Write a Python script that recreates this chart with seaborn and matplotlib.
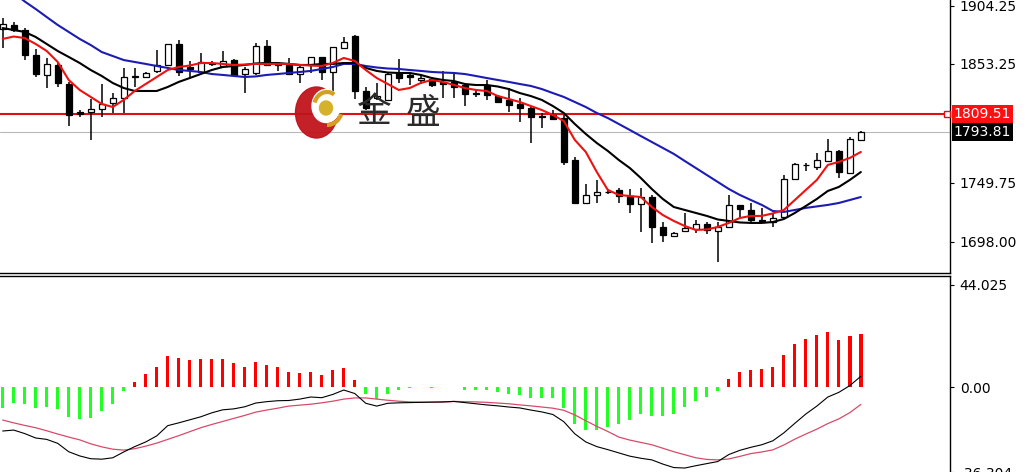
import matplotlib
matplotlib.use("Agg")
import matplotlib.pyplot as plt
import matplotlib.transforms as mtransforms
from matplotlib.patches import Ellipse, Arc
import numpy as np
import seaborn as sns

# candle data
opens = [1883.8, 1887.3, 1882.9, 1861.1, 1843.7, 1852.4, 1835.8, 1811.4, 1811.4, 1814.0,
         1819.2, 1823.6, 1841.9, 1841.9, 1847.1, 1852.4, 1870.7, 1850.6, 1846.3, 1854.1,
         1851.5, 1856.7, 1844.5, 1845.4, 1868.9, 1853.25, 1852.4, 1844.5, 1852.4, 1859.4,
         1846.3, 1867.2, 1877.7, 1829.7, 1823.6, 1821.9, 1845.4, 1843.7, 1839.3, 1840.2,
         1837.6, 1837.6, 1834.9, 1828.0, 1834.9, 1825.3, 1821.9, 1818.4, 1814.9, 1807.9,
         1808.8, 1806.2, 1769.5, 1732.0, 1739.0, 1741.6, 1743.4, 1738.1, 1731.1, 1737.2,
         1711.1, 1703.2, 1707.6, 1709.3, 1713.7, 1707.6, 1711.1, 1730.3, 1725.9, 1717.2,
         1715.4, 1719.8, 1752.9, 1765.2, 1763.4, 1768.6, 1777.4, 1758.2, 1787.0]
highs = [1893.4, 1889.9, 1884.7, 1866.3, 1858.5, 1854.1, 1837.6, 1813.1, 1822.7, 1835.8,
         1828.0, 1849.8, 1849.8, 1846.3, 1865.5, 1870.7, 1874.2, 1855.9, 1862.8, 1855.9,
         1864.6, 1857.6, 1850.6, 1871.6, 1874.2, 1854.1, 1858.5, 1852.4, 1859.4, 1859.4,
         1868.1, 1876.8, 1878.6, 1833.2, 1836.7, 1845.4, 1857.6, 1845.4, 1843.7, 1841.9,
         1847.1, 1846.3, 1836.7, 1830.6, 1839.3, 1826.2, 1832.3, 1823.6, 1815.7, 1810.5,
         1813.1, 1808.8, 1772.1, 1748.6, 1752.1, 1744.2, 1745.1, 1744.2, 1745.1, 1739.0,
         1715.4, 1706.7, 1723.3, 1717.2, 1715.4, 1715.4, 1739.0, 1730.3, 1732.0, 1727.7,
         1723.3, 1756.4, 1766.9, 1766.9, 1775.6, 1787.8, 1778.2, 1789.6, 1794.8]
lows = [1867.2, 1881.2, 1856.7, 1841.9, 1832.3, 1833.2, 1799.2, 1807.0, 1787.0, 1807.0,
        1810.5, 1810.5, 1833.2, 1841.0, 1845.4, 1851.5, 1842.8, 1841.0, 1845.4, 1851.5,
        1850.6, 1842.8, 1828.0, 1843.7, 1851.5, 1847.1, 1843.7, 1836.7, 1845.4, 1839.3,
        1828.0, 1867.2, 1822.7, 1813.1, 1821.9, 1821.0, 1836.7, 1834.9, 1835.8, 1833.2,
        1823.6, 1823.6, 1816.6, 1824.5, 1821.9, 1819.2, 1811.4, 1802.7, 1784.3, 1797.4,
        1804.4, 1765.2, 1731.1, 1731.1, 1732.0, 1739.9, 1732.0, 1723.3, 1706.7, 1697.1,
        1698.0, 1702.4, 1706.7, 1705.8, 1705.0, 1680.5, 1710.2, 1719.8, 1715.4, 1715.4,
        1711.1, 1718.9, 1752.1, 1759.9, 1760.8, 1767.8, 1753.8, 1757.3, 1787.0]
closes = [1888.1, 1882.9, 1861.1, 1844.5, 1853.25, 1836.7, 1808.8, 1809.2, 1814.0, 1818.4,
          1823.6, 1841.9, 1842.8, 1845.4, 1852.4, 1870.7, 1846.3, 1848.9, 1855.0, 1853.25,
          1855.9, 1843.7, 1848.9, 1868.9, 1852.4, 1852.4, 1844.5, 1850.6, 1859.4, 1846.3,
          1868.1, 1872.4, 1829.7, 1814.9, 1825.3, 1844.5, 1841.0, 1841.9, 1841.0, 1834.9,
          1835.8, 1833.2, 1827.1, 1827.1, 1826.2, 1820.1, 1817.5, 1814.9, 1807.0, 1807.0,
          1805.3, 1767.8, 1732.0, 1739.0, 1741.6, 1742.0, 1738.1, 1731.1, 1737.2, 1711.1,
          1704.1, 1705.8, 1710.2, 1713.7, 1708.5, 1711.1, 1730.3, 1726.8, 1717.2, 1716.7,
          1718.9, 1752.9, 1766.0, 1764.7, 1769.5, 1777.4, 1759.0, 1787.8, 1793.81]

# moving averages as drawn
ma_fast = [1875.1, 1877.2, 1875.9, 1870.7, 1864.6, 1855.0, 1839.3, 1830.6, 1824.5, 1818.4,
           1815.7, 1821.9, 1829.7, 1835.8, 1841.9, 1848.0, 1850.6, 1851.9, 1854.1, 1854.1,
           1853.3, 1852.4, 1852.8, 1853.3, 1853.3, 1853.3, 1853.3, 1852.4, 1851.9, 1851.5,
           1854.1, 1858.5, 1855.9, 1848.0, 1841.0, 1835.8, 1830.6, 1832.3, 1836.7, 1839.3,
           1837.6, 1835.0, 1832.3, 1830.6, 1829.7, 1825.3, 1822.7, 1820.1, 1816.6, 1813.1,
           1808.8, 1803.5, 1787.0, 1776.5, 1759.0, 1743.4, 1739.0, 1738.1, 1737.2, 1728.5,
           1721.5, 1716.3, 1711.9, 1708.5, 1708.9, 1711.1, 1714.6, 1718.9, 1720.7, 1720.7,
           1722.9, 1725.9, 1734.6, 1743.4, 1752.1, 1765.2, 1767.8, 1771.3, 1776.5]
ma_mid = [1884.6, 1882.9, 1881.2, 1876.8, 1870.7, 1864.6, 1859.4, 1854.1, 1848.0, 1842.8,
          1836.7, 1832.3, 1829.7, 1829.7, 1829.7, 1833.2, 1837.6, 1841.0, 1844.5, 1848.0,
          1850.6, 1851.5, 1852.4, 1853.7, 1854.1, 1854.1, 1853.3, 1852.4, 1852.4, 1853.3,
          1853.3, 1854.1, 1854.1, 1849.8, 1847.2, 1845.8, 1845.4, 1845.4, 1843.7, 1841.0,
          1839.3, 1838.4, 1835.8, 1834.9, 1834.9, 1833.6, 1831.4, 1827.9, 1825.3, 1821.9,
          1816.6, 1810.5, 1800.9, 1792.2, 1784.3, 1777.4, 1769.5, 1762.5, 1753.8, 1744.2,
          1735.5, 1728.5, 1725.9, 1723.3, 1720.7, 1717.6, 1716.3, 1715.0, 1714.6, 1714.6,
          1715.4, 1718.0, 1723.3, 1729.4, 1735.5, 1742.5, 1746.0, 1752.1, 1759.0]
ma_slow = [1922.2, 1915.2, 1907.8, 1901.2, 1894.2, 1887.3, 1881.2, 1875.1, 1869.8, 1863.7,
           1860.2, 1856.7, 1855.0, 1853.3, 1851.5, 1849.8, 1848.0, 1847.2, 1846.3, 1844.5,
           1843.7, 1842.8, 1841.9, 1842.4, 1843.7, 1844.5, 1845.4, 1846.3, 1847.2, 1848.9,
           1850.6, 1853.3, 1853.3, 1851.5, 1850.2, 1849.3, 1848.9, 1848.0, 1847.2, 1846.3,
           1845.8, 1845.4, 1844.5, 1842.8, 1841.0, 1839.3, 1837.6, 1835.8, 1834.1, 1831.4,
           1827.9, 1824.5, 1820.1, 1815.7, 1810.5, 1806.1, 1800.9, 1795.7, 1790.4, 1785.2,
           1780.0, 1774.8, 1768.6, 1762.5, 1756.4, 1750.3, 1744.2, 1739.0, 1734.6, 1730.3,
           1725.0, 1724.2, 1725.9, 1727.7, 1729.0, 1730.3, 1732.0, 1734.6, 1737.2]

# MACD panel
macd_line = [-18.7, -18.3, -19.8, -21.7, -22.3, -24.0, -27.6, -29.4, -30.6, -30.8,
             -30.2, -27.7, -25.4, -23.4, -20.8, -16.4, -15.2, -13.9, -12.6, -10.9,
             -9.6, -9.2, -8.3, -6.7, -6.1, -5.7, -5.6, -5.0, -4.1, -4.4,
             -3.0, -1.1, -2.6, -6.8, -8.0, -6.8, -6.6, -6.5, -6.4, -6.3,
             -6.2, -6.0, -6.5, -7.0, -7.5, -7.9, -8.4, -8.8, -9.7, -10.5,
             -11.6, -14.7, -19.9, -23.4, -25.4, -26.7, -28.1, -29.5, -30.4, -31.1,
             -32.9, -34.4, -34.6, -33.6, -32.7, -31.8, -28.8, -27.0, -25.7, -24.6,
             -22.9, -19.5, -15.4, -11.4, -8.0, -4.1, -2.1, 0.8, 4.8]
signal_line = [-14.0, -15.2, -16.3, -17.3, -18.6, -20.0, -21.3, -22.5, -24.2, -25.5,
               -26.5, -26.9, -26.3, -25.2, -23.9, -22.3, -20.7, -19.0, -17.3, -15.9,
               -14.6, -13.3, -12.0, -10.6, -9.7, -8.9, -8.0, -7.6, -7.2, -6.6,
               -5.9, -5.0, -4.5, -4.5, -5.0, -5.5, -5.9, -6.2, -6.3, -6.3,
               -6.3, -6.0, -6.1, -6.2, -6.4, -6.7, -7.0, -7.5, -7.9, -8.4,
               -8.9, -9.8, -11.8, -14.3, -16.7, -18.9, -21.3, -22.6, -23.6, -24.6,
               -26.1, -27.6, -28.9, -30.2, -30.9, -31.1, -30.7, -29.6, -28.4, -27.7,
               -26.8, -24.7, -22.2, -20.0, -17.9, -15.5, -13.5, -10.8, -7.3]
macd_hist = [-8.7, -6.5, -7.0, -8.7, -8.4, -9.4, -12.7, -13.7, -13.0, -10.1,
             -7.0, -1.6, 2.4, 5.6, 8.8, 13.4, 12.7, 12.0, 12.3, 12.3,
             12.3, 10.3, 8.8, 11.1, 9.5, 8.7, 6.6, 6.0, 6.8, 5.3,
             7.4, 8.4, 3.4, -3.0, -4.8, -2.6, -1.1, -0.3, 0.3, -0.3,
             0.3, 0.3, -1.0, -1.2, -1.2, -1.8, -2.6, -3.4, -4.4, -4.4,
             -4.4, -8.7, -15.5, -18.4, -18.4, -17.0, -15.5, -14.0, -11.3, -12.2,
             -12.2, -11.3, -8.4, -5.8, -4.0, -1.4, 3.8, 6.8, 7.4, 8.1,
             8.8, 13.8, 18.7, 20.9, 22.4, 23.8, 20.5, 22.2, 22.9]

price_ticks = [1904.25, 1853.25, 1749.75, 1698.00]
price_labels = ["1904.25", "1853.25", "1749.75", "1698.00"]
macd_ticks = [44.025, 0.0, -36.304]
macd_labels = ["44.025", "0.00", "-36.304"]
level_line = 1809.51
last_close = 1793.81

sns.set_theme(style="white")
plt.rcParams["font.family"] = ["DejaVu Sans", "Noto Sans CJK SC"]

fig = plt.figure(figsize=(10.3, 4.72), dpi=100)
ax1 = fig.add_axes([0.0, 0.4206, 0.9223, 0.5794])
ax2 = fig.add_axes([0.0, 0.0, 0.9223, 0.4153])

idx = np.arange(len(opens))
o = np.array(opens)
c = np.array(closes)

# candles
ax1.vlines(idx, lows, highs, color="black", lw=1.1, zorder=2)
body_col = ["white" if cc >= oo else "black" for oo, cc in zip(o, c)]
ax1.bar(idx, np.abs(c - o), bottom=np.minimum(o, c), width=0.55,
        color=body_col, edgecolor="black", linewidth=0.9, zorder=3)

# moving averages
sns.lineplot(x=idx, y=ma_slow, ax=ax1, color="#1c1cb4", lw=1.5, zorder=4)
sns.lineplot(x=idx, y=ma_mid, ax=ax1, color="black", lw=1.5, zorder=4)
sns.lineplot(x=idx, y=ma_fast, ax=ax1, color="#ee1111", lw=1.5, zorder=4)

ax1.axhline(level_line, color="#e01010", lw=1.5, zorder=1)
ax1.axhline(last_close, color="#b8b8b8", lw=0.8, zorder=1)
ax1.plot([85.8], [level_line], marker="s", ms=4, mfc="white", mec="#e01010",
         mew=1, zorder=5, clip_on=False)

ax1.set_xlim(-0.245, 86.1)
ax1.set_ylim(1670.5, 1909.07)

# MACD histogram and lines
bar_col = ["#ff0000" if v > 0 else "#22ff22" for v in macd_hist]
ax2.bar(idx, macd_hist, width=0.3, color=bar_col, linewidth=0, zorder=2)
sns.lineplot(x=idx, y=signal_line, ax=ax2, color="#d84a6a", lw=0.9, zorder=3)
sns.lineplot(x=idx, y=macd_line, ax=ax2, color="black", lw=0.8, zorder=3)
ax2.set_xlim(-0.245, 86.1)
ax2.set_ylim(-35.9, 47.87)

for ax, ticks, labels in [(ax1, price_ticks, price_labels),
                          (ax2, macd_ticks, macd_labels)]:
    ax.set_facecolor("white")
    ax.yaxis.tick_right()
    ax.set_yticks(ticks)
    ax.set_yticklabels(labels)
    ax.set_xticks([])
    ax.tick_params(axis="y", right=True, length=3, width=0.8, pad=4,
                   labelsize=10, colors="black")
    ax.set_xlabel("")
    ax.set_ylabel("")
    for s in ["left"]:
        ax.spines[s].set_visible(False)
    ax.spines["right"].set_color("black")
    ax.spines["right"].set_linewidth(1)

ax1.spines["top"].set_visible(False)
ax1.spines["bottom"].set_color("black")
ax1.spines["bottom"].set_linewidth(1)
ax2.spines["bottom"].set_visible(False)
ax2.spines["top"].set_color("black")
ax2.spines["top"].set_linewidth(1)

# price tags at the right
trans = mtransforms.blended_transform_factory(ax1.transAxes, ax1.transData)
ax1.text(1.004, level_line, "1809.51", transform=trans, color="white",
         fontsize=10, va="center", ha="left", clip_on=False,
         bbox=dict(boxstyle="square,pad=0.12", fc="#ff1010", ec="none"))
ax1.text(1.004, last_close, "1793.81", transform=trans, color="white",
         fontsize=10, va="center", ha="left", clip_on=False,
         bbox=dict(boxstyle="square,pad=0.12", fc="black", ec="none"))

# watermark logo
ov = fig.add_axes([0, 0, 1, 1], zorder=10)
ov.set_xlim(0, 1030)
ov.set_ylim(472, 0)
ov.axis("off")
ov.patch.set_alpha(0)
ov.add_patch(Ellipse((316.5, 112.5), 42, 51, color="#c0141c", alpha=0.95))
ov.add_patch(Ellipse((326, 106), 28, 33, color="white"))
ov.add_patch(Ellipse((326, 108), 13, 14, color="#d6b22a"))
ov.add_patch(Arc((327, 107), 26, 30, theta1=200, theta2=300, color="#d4a020", lw=3))
ov.add_patch(Arc((327, 109), 30, 32, theta1=20, theta2=90, color="#d4a020", lw=3))
ov.text(374, 113, "金", fontsize=25, color="#2b2b2b", ha="center", va="center",
        family=["Noto Sans CJK SC", "DejaVu Sans"])
ov.text(423, 113, "盛", fontsize=25, color="#2b2b2b", ha="center", va="center",
        family=["Noto Sans CJK SC", "DejaVu Sans"])

fig.savefig("out.png", dpi=100)
